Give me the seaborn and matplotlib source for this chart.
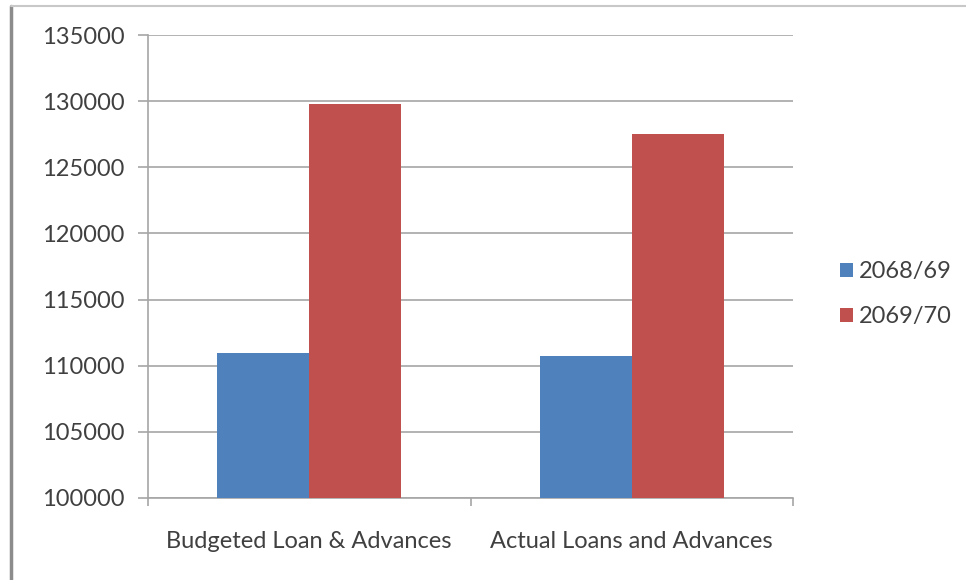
import matplotlib
matplotlib.use("Agg")
import matplotlib.pyplot as plt
from matplotlib.lines import Line2D
import numpy as np
import pandas as pd
import seaborn as sns

# chart data
categories = ["Budgeted Loan & Advances", "Actual Loans and Advances"]
years = ["2068/69", "2069/70"]
values_2068_69 = [110950, 110750]
values_2069_70 = [129750, 127550]
y_ticks = [100000, 105000, 110000, 115000, 120000, 125000, 130000, 135000]

colors = ["#4F81BD", "#C0504D"]
text_color = "#404040"
grid_color = "#a6a6a6"

df = pd.DataFrame({
    "category": categories * 2,
    "year": [years[0]] * len(categories) + [years[1]] * len(categories),
    "value": values_2068_69 + values_2069_70,
})

sns.set_theme(style="white")
plt.rcParams["font.family"] = ["Lato", "DejaVu Sans"]

fig = plt.figure(figsize=(9.66, 5.8), dpi=100)
ax = fig.add_axes([148 / 966, 1 - 498 / 580, 645 / 966, 463 / 580])

sns.barplot(data=df, x="category", y="value", hue="year", order=categories,
            hue_order=years, palette=colors, width=0.57, saturation=1,
            linewidth=0, ax=ax, zorder=3)
# bars start at the axis bottom, not at zero
ax.set_ylim(y_ticks[0], y_ticks[-1])
ax.set_xlim(-0.5, len(categories) - 0.5)
ax.set_yticks(y_ticks)
ax.set_yticklabels([str(t) for t in y_ticks])
ax.yaxis.grid(True, color=grid_color, linewidth=1.2, zorder=0)
ax.set_axisbelow(True)
ax.set_xlabel("")
ax.set_ylabel("")

for side in ["top", "right"]:
    ax.spines[side].set_visible(False)
for side in ["left", "bottom"]:
    ax.spines[side].set_color(grid_color)
    ax.spines[side].set_linewidth(1.2)

ax.tick_params(axis="y", left=True, length=7, width=1.2, color=grid_color,
               labelsize=17, labelcolor=text_color, pad=10)
ax.tick_params(axis="x", bottom=False, labelsize=17, labelcolor=text_color,
               pad=18)
# minor ticks at the category boundaries on the x axis
ax.set_xticks(np.arange(-0.5, len(categories)), minor=True)
ax.tick_params(axis="x", which="minor", bottom=True, length=6, width=1.2,
               color=grid_color)

leg = ax.legend(loc="center left", bbox_to_anchor=(1.04, 0.44), frameon=False,
                handlelength=0.55, handleheight=0.55, handletextpad=0.25,
                labelspacing=1.0, fontsize=17)
for txt in leg.get_texts():
    txt.set_color(text_color)

# outer chart frame
fig.add_artist(Line2D([11 / 966, 11 / 966], [0, 1 - 6 / 580], color="#8c8c8c",
                      linewidth=2.5, transform=fig.transFigure))
fig.add_artist(Line2D([11 / 966, 1], [1 - 6 / 580, 1 - 6 / 580], color="#c8c8c8",
                      linewidth=1.5, transform=fig.transFigure))

fig.savefig("out.png", dpi=100, facecolor="white")
